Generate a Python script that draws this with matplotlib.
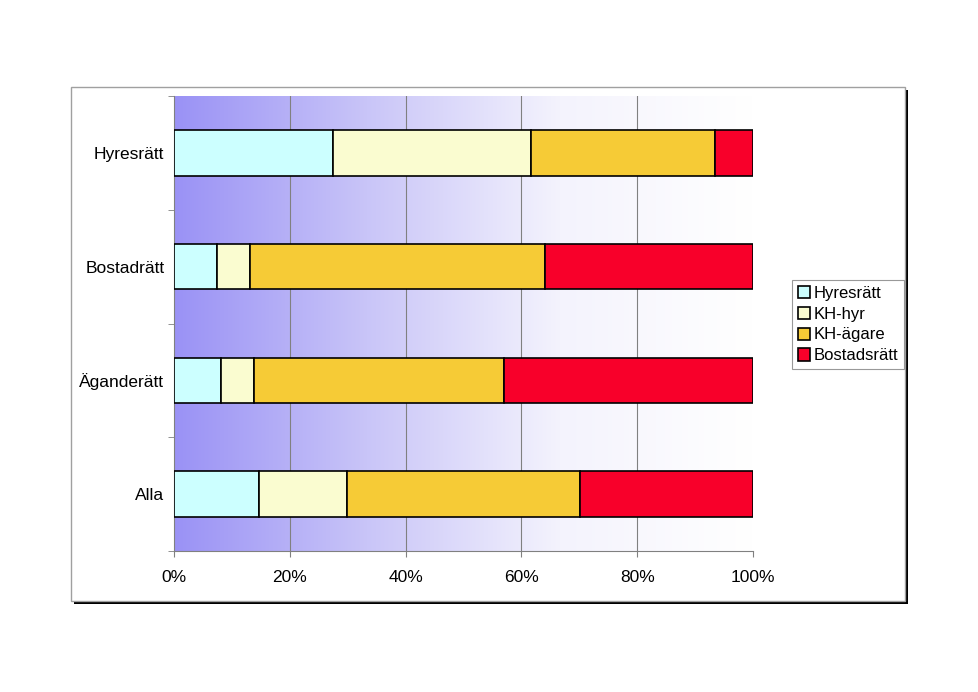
import numpy as np
import matplotlib.pyplot as plt
from matplotlib.colors import LinearSegmentedColormap
from matplotlib.patches import Rectangle

plt.rcParams["font.family"] = ["Liberation Sans", "DejaVu Sans"]

categories = ["Alla", "Äganderätt", "Bostadrätt", "Hyresrätt"]
series = ["Hyresrätt", "KH-hyr", "KH-ägare", "Bostadsrätt"]
hyresratt = [14.6, 8.1, 7.5, 27.5]
kh_hyr = [15.2, 5.7, 5.7, 34.2]
kh_agare = [40.4, 43.2, 50.9, 31.7]
bostadsratt = [29.8, 43.0, 35.9, 6.6]
colors = ["#ccffff", "#fafcd0", "#f6cb36", "#f8002a"]
xticks = [0, 20, 40, 60, 80, 100]

fig = plt.figure(figsize=(9.79, 6.92), dpi=100)
W, H = 979, 692

# chart frame with shadow
fig.patches.append(Rectangle((74 / W, 1 - 604 / H), 834 / W, 514 / H,
                             transform=fig.transFigure, facecolor="black",
                             edgecolor="none", zorder=0))
fig.patches.append(Rectangle((71 / W, 1 - 601 / H), 834 / W, 514 / H,
                             transform=fig.transFigure, facecolor="white",
                             edgecolor="#a0a0a0", linewidth=1, zorder=1))

ax = fig.add_axes([174 / W, 1 - 551 / H, 579 / W, 455 / H])
ax.set_zorder(2)

# gradient background
cmap = LinearSegmentedColormap.from_list("bg", ["#9a92f5", "#c9c5f8", "#f4f3fd", "#ffffff"])
grad = np.linspace(0, 1, 256).reshape(1, -1)
ax.imshow(grad, cmap=cmap, aspect="auto", extent=[0, 100, -0.5, 3.5], zorder=0)

for x in xticks[1:-1]:
    ax.axvline(x, color="#808080", linewidth=0.8, zorder=1)

y = np.arange(len(categories))
left = np.zeros(len(categories))
for name, vals, c in zip(series, [hyresratt, kh_hyr, kh_agare, bostadsratt], colors):
    ax.barh(y, vals, left=left, height=0.4, color=c, edgecolor="black",
            linewidth=1.2, label=name, zorder=3)
    left += np.array(vals)

fs = 12.5
ax.set_xlim(0, 100)
ax.set_ylim(-0.5, 3.5)
ax.set_xticks(xticks)
ax.set_xticklabels([f"{t}%" for t in xticks], fontsize=fs)
ax.set_yticks(y)
ax.set_yticklabels(categories, fontsize=fs)
ax.set_yticks(np.arange(-0.5, 3.6, 1), minor=True)
ax.tick_params(axis="y", which="major", length=0, pad=7)
ax.tick_params(axis="y", which="minor", length=4, color="#808080")
ax.tick_params(axis="x", length=4, color="#808080", pad=10)
for s in ["top", "right"]:
    ax.spines[s].set_visible(False)
for s in ["left", "bottom"]:
    ax.spines[s].set_color("#808080")

leg = ax.legend(loc="upper left", bbox_to_anchor=(792 / W, 1 - 280 / H),
                bbox_transform=fig.transFigure, fontsize=12, frameon=True,
                fancybox=False, borderpad=0.35, labelspacing=0.35,
                handlelength=0.75, handleheight=0.75, handletextpad=0.2,
                borderaxespad=0)
leg.get_frame().set_edgecolor("#808080")
leg.get_frame().set_linewidth(0.8)

plt.savefig("out.png", dpi=100)
